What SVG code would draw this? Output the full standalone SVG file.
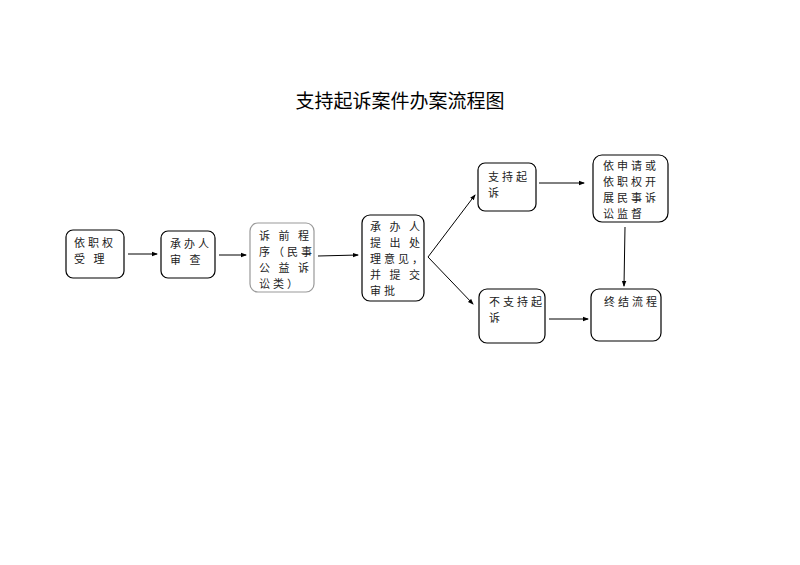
<svg xmlns="http://www.w3.org/2000/svg" width="800" height="565" viewBox="0 0 800 565">
<style>
.b{fill:#fff;stroke:#000;stroke-width:1.2}
.g{fill:#fff;stroke:#999;stroke-width:1.2}
text{font-family:"Noto Sans CJK SC",sans-serif;font-size:11px;fill:#222;letter-spacing:3px}
.t{font-size:19px;fill:#000;letter-spacing:0}
.c line{stroke:#000;stroke-width:1}
</style>
<defs><marker id="a" markerWidth="6" markerHeight="6" refX="5" refY="3" orient="auto" markerUnits="userSpaceOnUse"><path d="M0,0.8 L6,3 L0,5.2z" fill="#000"/></marker></defs>
<rect width="800" height="565" fill="#fff"/>
<text class="t" x="400" y="108" text-anchor="middle">支持起诉案件办案流程图</text>
<g id="n1"><rect class="b" x="66" y="230" width="58" height="48" rx="7"/><text x="74" y="247">依职权</text><text x="74" y="263">受 理</text></g>
<g id="n2"><rect class="b" x="161" y="231" width="54" height="47" rx="7"/><text x="170" y="248">承办人</text><text x="170" y="264">审 查</text></g>
<g id="n3"><rect class="g" x="250" y="223" width="64" height="69" rx="8"/><text x="259" y="240">诉 前 程</text><text x="259" y="256" letter-spacing="1">序（民事</text><text x="259" y="272">公 益 诉</text><text x="259" y="288">讼类）</text></g>
<g id="n4"><rect class="b" x="362" y="215" width="62" height="86" rx="8"/><text x="370" y="231">承 办 人</text><text x="370" y="247">提 出 处</text><text x="370" y="263" letter-spacing="1">理意见，</text><text x="370" y="279">并 提 交</text><text x="370" y="295">审批</text></g>
<g id="n5"><rect class="b" x="478" y="163" width="58" height="48" rx="7"/><text x="488" y="181">支持起</text><text x="488" y="197">诉</text></g>
<g id="n6"><rect class="b" x="593" y="155" width="75" height="67" rx="9"/><text x="603" y="170">依申请或</text><text x="603" y="186">依职权开</text><text x="603" y="202">展民事诉</text><text x="603" y="218" letter-spacing="0">讼监督</text></g>
<g id="n7"><rect class="b" x="479" y="289" width="66" height="54" rx="8"/><text x="489" y="306" letter-spacing="1">不支持起</text><text x="489" y="322">诉</text></g>
<g id="n8"><rect class="b" x="591" y="289" width="70" height="52" rx="8"/><text x="604" y="306" letter-spacing="0">终结流程</text></g>
<g class="c">
<line x1="128" y1="254" x2="157" y2="254" marker-end="url(#a)"/>
<line x1="219" y1="255" x2="246" y2="255" marker-end="url(#a)"/>
<line x1="318" y1="256" x2="358" y2="255" marker-end="url(#a)"/>
<line x1="428" y1="257" x2="475" y2="195" marker-end="url(#a)"/>
<line x1="428" y1="257" x2="473" y2="304" marker-end="url(#a)"/>
<line x1="539" y1="183" x2="584" y2="183" marker-end="url(#a)"/>
<line x1="625" y1="227" x2="624" y2="286" marker-end="url(#a)"/>
<line x1="549" y1="319" x2="588" y2="319" marker-end="url(#a)"/>
</g>
</svg>
